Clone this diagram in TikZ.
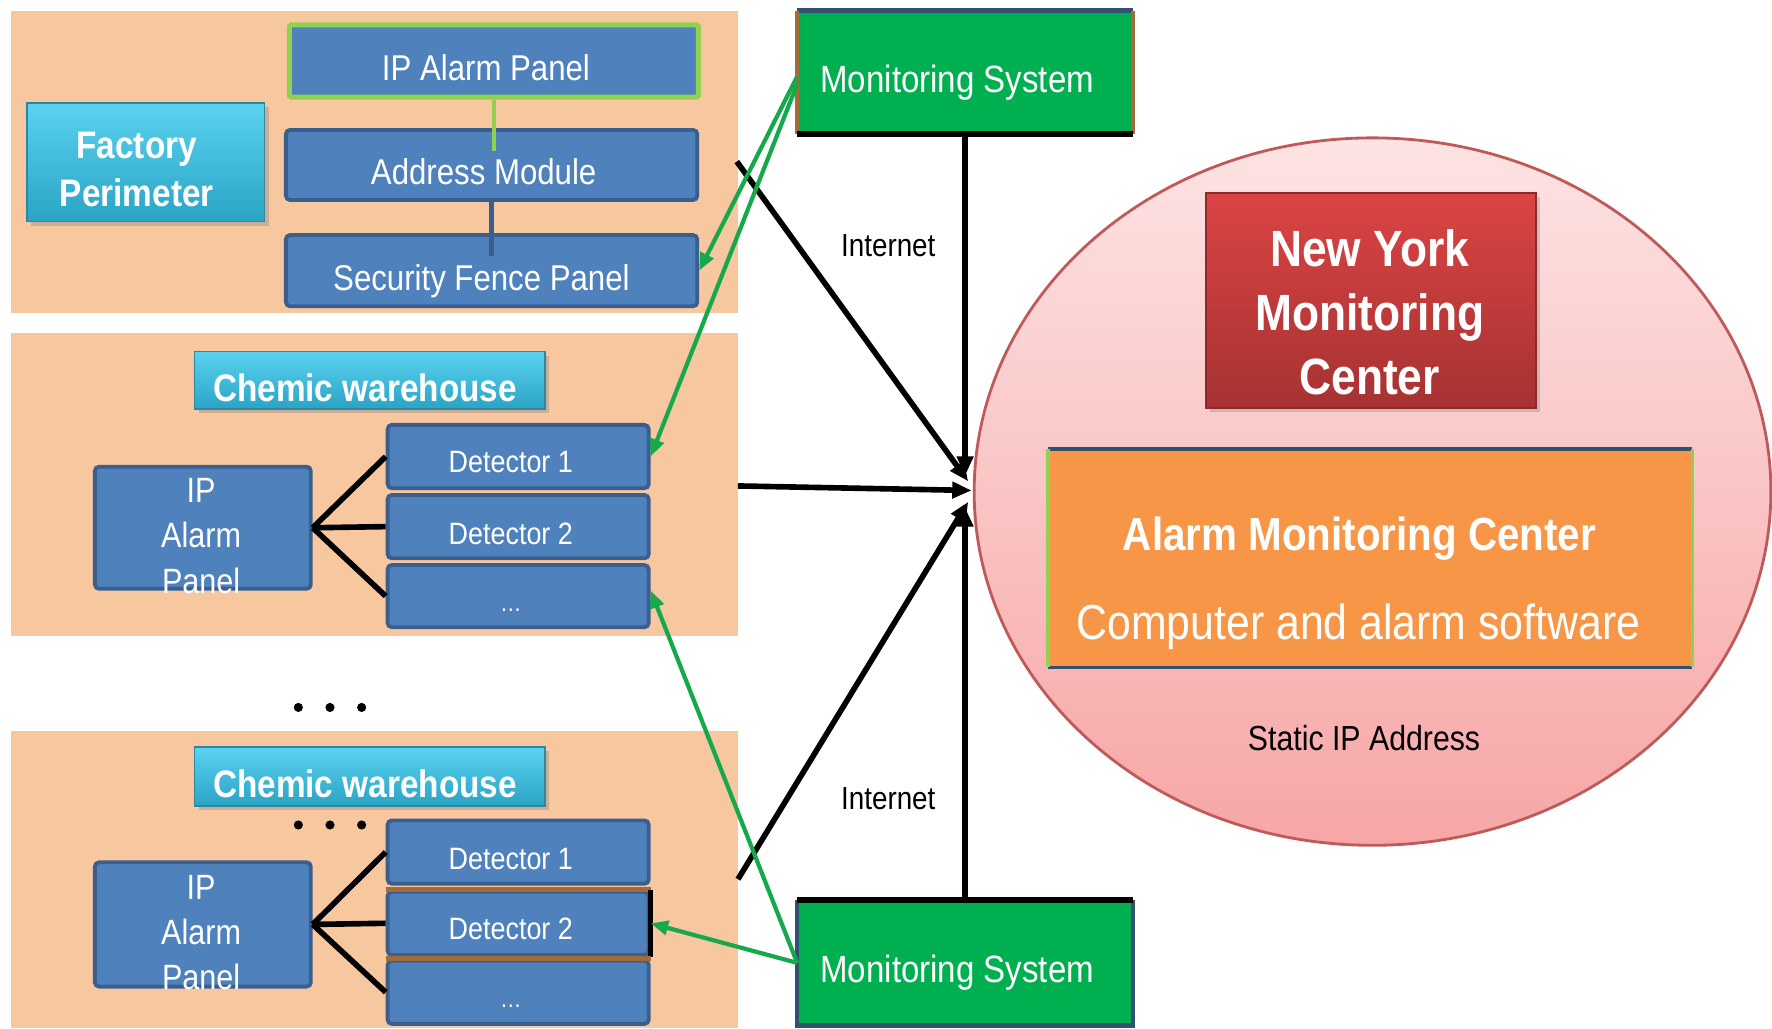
\documentclass[tikz,border=0pt]{standalone}
\usepackage{fontspec}
\setmainfont{Liberation Sans}[FakeStretch=0.87]
\usetikzlibrary{arrows.meta,shapes.geometric,fit,calc,shadows}
\definecolor{peach}{HTML}{F7C7A0}
\definecolor{boxblue}{HTML}{4F81BD}
\definecolor{boxedge}{HTML}{3A5F8F}
\definecolor{cyanT}{HTML}{5AD2F0}
\definecolor{cyanB}{HTML}{2BA3C4}
\definecolor{cyanE}{HTML}{2E86A0}
\definecolor{msgreen}{HTML}{00B050}
\definecolor{arrgreen}{HTML}{17A84C}
\definecolor{lgreen}{HTML}{92D050}
\definecolor{brownE}{HTML}{A36B38}
\definecolor{navyE}{HTML}{34506F}
\definecolor{pinkT}{HTML}{FDE3E3}
\definecolor{pinkB}{HTML}{F7A6A6}
\definecolor{pinkE}{HTML}{C05A5A}
\definecolor{redT}{HTML}{DB4444}
\definecolor{redB}{HTML}{A63232}
\definecolor{redE}{HTML}{8E2A2A}
\definecolor{orangeF}{HTML}{F79646}
\newcommand\fz[2]{\fontsize{#1pt}{#2pt}\selectfont}
\begin{document}
\begin{tikzpicture}[x=0.11301mm,y=-0.11301mm,
  bbox/.style={fill=boxblue, draw=boxedge, line width=1.1pt, rounded corners=1.2pt, inner sep=0pt},
  cbox/.style={top color=cyanT, bottom color=cyanB, draw=cyanE, line width=0.5pt, inner sep=0pt,
     drop shadow={opacity=0.35, shadow xshift=1.2pt, shadow yshift=-1.2pt}},
  wt/.style={text=white, inner sep=0pt, align=center, text depth=0pt},
  bt/.style={text=black, inner sep=0pt, align=center, text depth=0pt},
  link/.style={line width=1.6pt, black},
  arr/.style={line width=1.6pt, black, -{Triangle[length=5.5pt,width=4.5pt]}},
  garr/.style={line width=1.2pt, arrgreen, -{Triangle[length=5pt,width=4pt]}},
  dot/.style={circle, fill=black, inner sep=0pt, minimum size=2.6pt},
  btext/.style={wt, font=\fz{10.2}{12}},
  dtext/.style={wt, font=\fz{8.8}{10}}
]
\useasboundingbox (0,0) rectangle (1568,910);
\fill[white] (0,0) rectangle (1568,910);

% peach panels
\fill[peach] (10,10) rectangle (653,277);
\fill[peach] (10,295) rectangle (653,563);
\fill[peach] (10,647) rectangle (653,910);

% circle
\node[ellipse, inner sep=0pt, minimum width=705*0.11301mm, minimum height=626*0.11301mm,
      top color=pinkT, bottom color=pinkB, draw=pinkE, line width=0.8pt] (circ) at (1214.5,435) {};

% ---- panel 1
\node[cbox, fit={(24,91)(234,196)}] (fp) {};
\node[wt, font=\bfseries\fz{10.9}{13.8}] (fpt) at (121,150) {Factory\\Perimeter};
\node[bbox, draw=lgreen, line width=1.4pt, rounded corners=0.5pt, fit={(256,22)(618,86)}] (ipa1) {};
\node[btext] (ipa1t) at (430,60) {IP Alarm Panel};
\node[bbox, fit={(253,115)(617,177)}] (addr) {};
\node[btext] (addrt) at (428,152) {Address Module};
\node[bbox, fit={(253,208)(617,271)}] (sfp) {};
\node[btext] (sfpt) at (426,246) {Security Fence Panel};
\draw[lgreen, line width=1.3pt] (ipa1.south) -- ($(addr.north)+(2,20)$);
\draw[boxedge, line width=1.3pt] (addr.south) -- ($(sfp.north)+(0,20)$);

% ---- panel 2
\node[cbox, fit={(172,311)(482,362)}] (cw2) {};
\node[wt, font=\bfseries\fz{10.9}{13}] (cw2t) at (323,343) {Chemic warehouse};
\node[bbox, fit={(84,413)(275,521)}] (ap2) {};
\node[wt, font=\fz{10}{12.9}] (ap2t) at (178,474) {IP\\Alarm\\Panel};
\node[bbox, fit={(343,376)(574,432)}] (d21) {};
\node[dtext] (d21t) at (452,409) {Detector 1};
\node[bbox, fit={(343,438)(574,494)}] (d22) {};
\node[dtext] (d22t) at (452,472) {Detector 2};
\node[bbox, fit={(343,500)(574,555)}] (d23) {};
\node[wt, font=\fz{7}{8}] (d23t) at (452,540) {\ldots};
\draw[link] (ap2.east) -- (d21.west);
\draw[link] (ap2.east) -- (d22.west);
\draw[link] (ap2.east) -- (d23.west);

% dots between panels
\node[dot] (da1) at (264,626) {};
\node[dot] (da2) at (292,626) {};
\node[dot] (da3) at (320,626) {};

% ---- panel 3
\node[cbox, fit={(172,661)(482,713)}] (cw3) {};
\node[wt, font=\bfseries\fz{10.9}{13}] (cw3t) at (323,693) {Chemic warehouse};
\node[dot] (db1) at (264,730) {};
\node[dot] (db2) at (292,730) {};
\node[dot] (db3) at (320,730) {};
\node[bbox, fit={(84,763)(275,873)}] (ap3) {};
\node[wt, font=\fz{10}{12.9}] (ap3t) at (178,825) {IP\\Alarm\\Panel};
\node[bbox, fit={(343,726)(574,782)}] (d31) {};
\node[dtext] (d31t) at (452,760) {Detector 1};
\node[bbox, fit={(343,789)(574,845)}] (d32) {};
\node[dtext] (d32t) at (452,822) {Detector 2};
\node[bbox, fit={(343,850)(574,906)}] (d33) {};
\node[wt, font=\fz{7}{8}] (d33t) at (452,890) {\ldots};
\draw[brownE, line width=1.3pt] (d32.north west) -- (d32.north east);
\draw[black, line width=1.4pt] (d32.north east) -- (d32.south east);
\draw[brownE, line width=1.3pt] (d33.north west) -- (d33.north east);
\draw[link] (ap3.east) -- (d31.west);
\draw[link] (ap3.east) -- (d32.west);
\draw[link] (ap3.east) -- (d33.west);

% ---- monitoring systems
\node[fill=msgreen, inner sep=0pt, fit={(706,10)(1002,118)}] (ms1) {};
\draw[navyE, line width=1.3pt] (ms1.north west) -- (ms1.north east);
\draw[brownE, line width=1.3pt] (ms1.north west) -- (ms1.south west);
\draw[brownE, line width=1.3pt] (ms1.north east) -- (ms1.south east);
\draw[black, line width=1.8pt] (ms1.south west) -- (ms1.south east);
\node[wt, font=\fz{10.8}{12}] (ms1t) at (847,70) {Monitoring System};

\node[fill=msgreen, inner sep=0pt, fit={(706,797)(1002,907)}] (ms2) {};
\draw[navyE, line width=1.3pt] (ms2.north west) -- (ms2.south west) -- (ms2.south east) -- (ms2.north east);
\draw[black, line width=1.8pt] (ms2.north west) -- (ms2.north east);
\node[wt, font=\fz{10.8}{12}] (ms2t) at (847,857) {Monitoring System};

\node[bt, font=\fz{9.1}{11}] (inet1) at (786,217) {Internet};
\node[bt, font=\fz{9.1}{11}] (inet2) at (786,707) {Internet};

% ---- center
\node[top color=redT, bottom color=redB, draw=redE, line width=0.5pt, inner sep=0pt,
      drop shadow={opacity=0.35, shadow xshift=1.2pt, shadow yshift=-1.2pt},
      fit={(1067,171)(1359,361)}] (nyc) {};
\node[wt, font=\bfseries\fz{14.5}{18.3}] (nyct) at (1212,276) {New York\\Monitoring\\Center};
\node[fill=orangeF, inner sep=0pt, fit={(928,398)(1497,590)}] (amc) {};
\draw[navyE, line width=1.1pt] (amc.north west) -- (amc.north east);
\draw[navyE, line width=1.1pt] (amc.south west) -- (amc.south east);
\draw[lgreen, line width=1.1pt] (amc.north west) -- (amc.south west);
\draw[lgreen, line width=1.1pt] (amc.north east) -- (amc.south east);
\node[wt, font=\bfseries\fz{13.2}{15}] (amct) at (1203,472) {Alarm Monitoring Center};
\node[wt, font=\fz{14}{16}] (amcs) at (1202,550) {Computer and alarm software};
\node[bt, font=\fz{9.9}{12}] (sip) at (1207,653) {Static IP Address};

% ---- black internet arrows
\coordinate (s1) at (652,143);
\coordinate (s2) at (653,430);
\coordinate (s3) at (653,778);
\draw[arr] (ms1.south) -- ($(ms1.south |- circ.west)+(0,-14)$);
\draw[arr] (s1) -- ($(circ.west)+(-4,-9)$);
\draw[arr] (s2) -- ($(circ.west)+(-1,-1)$);
\draw[arr] (s3) -- ($(circ.west)+(-4,9)$);
\draw[arr] (ms2.north) -- ($(ms2.north |- circ.west)+(0,14)$);

% ---- green arrows
\draw[garr] ([yshift=-1.2pt]ms1.west) -- (sfp.east);
\draw[garr] ([yshift=-3.4pt]ms1.west) -- (d21.east);
\draw[garr] (ms2.west) -- ([yshift=1.6pt]d23.east);
\draw[garr] (ms2.west) -- (d32.east);
\end{tikzpicture}
\end{document}
